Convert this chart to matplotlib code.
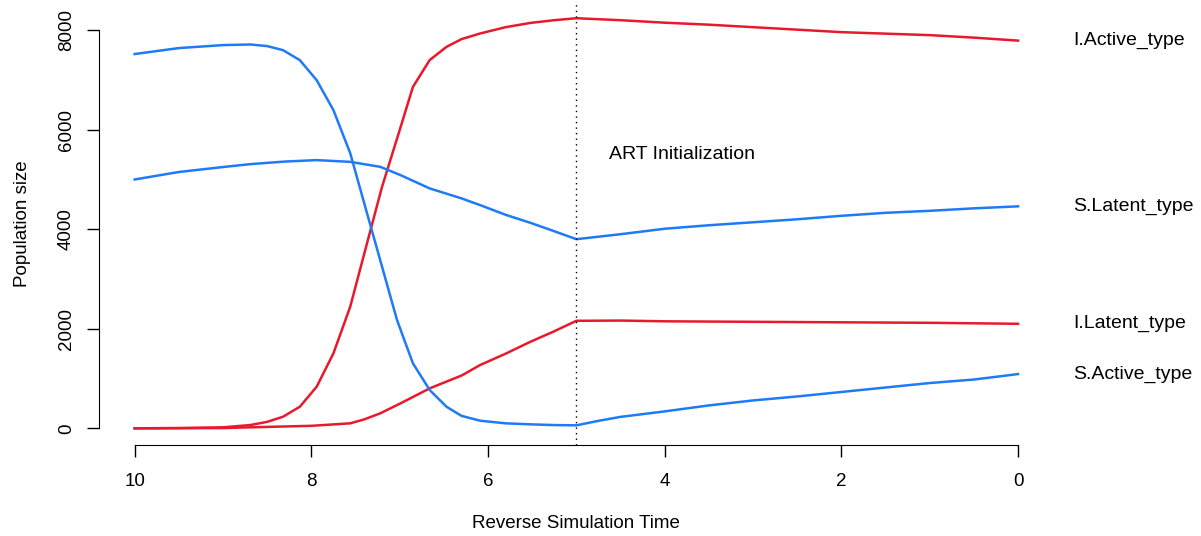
import matplotlib
matplotlib.use("Agg")
import matplotlib.pyplot as plt

plt.rcParams['font.family'] = ['Liberation Sans', 'DejaVu Sans']

# reverse simulation time (x axis runs from 10 down to 0)
t_i_active = [10, 9.5, 9.0, 8.69, 8.5, 8.32, 8.13, 7.94, 7.75, 7.56, 7.37, 7.2, 6.99, 6.85,
              6.66, 6.47, 6.3, 6.09, 5.8, 5.52, 5.25, 5.0, 4.5, 4.0, 3.5, 3.0, 2.5, 2.0,
              1.5, 1.0, 0.5, 0]
i_active = [0, 5, 20, 66, 130, 233, 434, 835, 1506, 2442, 3716, 4850, 6050, 6860,
            7400, 7664, 7820, 7933, 8060, 8146, 8200, 8240, 8200, 8150, 8110, 8060, 8010, 7960,
            7930, 7900, 7850, 7790]

t_s_active = [10, 9.5, 9.0, 8.69, 8.5, 8.32, 8.13, 7.94, 7.75, 7.56, 7.37, 7.2, 7.03, 6.85,
              6.66, 6.47, 6.3, 6.09, 5.8, 5.52, 5.25, 5.0, 4.75, 4.5, 4.0, 3.5, 3.0, 2.5,
              2.0, 1.5, 1.0, 0.5, 0]
s_active = [7520, 7640, 7700, 7712, 7680, 7598, 7397, 6996, 6393, 5529, 4324, 3250, 2175, 1305,
            769, 434, 250, 153, 100, 80, 65, 60, 150, 230, 340, 460, 560, 640,
            730, 820, 910, 980, 1090]

t_s_latent = [10, 9.5, 9.0, 8.69, 8.3, 7.94, 7.56, 7.22, 6.99, 6.66, 6.3, 6.09, 5.8, 5.52,
              5.25, 5.0, 4.5, 4.0, 3.5, 3.0, 2.5, 2.0, 1.5, 1.0, 0.5, 0]
s_latent = [5000, 5150, 5250, 5308, 5360, 5389, 5354, 5254, 5087, 4820, 4620, 4485, 4290, 4129,
            3960, 3800, 3900, 4010, 4080, 4140, 4200, 4270, 4330, 4370, 4420, 4460]

t_i_latent = [10, 9.0, 8.69, 8.0, 7.56, 7.4, 7.22, 6.99, 6.66, 6.3, 6.09, 5.8, 5.52, 5.25,
              5.0, 4.5, 4.0, 3.0, 2.0, 1.0, 0]
i_latent = [0, 5, 20, 50, 100, 180, 301, 502, 803, 1060, 1271, 1500, 1739, 1950,
            2160, 2165, 2150, 2140, 2130, 2120, 2100]

labels = ["I.Active_type", "S.Latent_type", "I.Latent_type", "S.Active_type"]
x_ticks = [10, 8, 6, 4, 2, 0]
y_ticks = [0, 2000, 4000, 6000, 8000]
art_time = 5

red = "#E8192C"
blue = "#1F7BF5"

fig = plt.figure(figsize=(12.01, 5.36), dpi=100)
ax = fig.add_axes([0.0827, 0.1698, 0.7944, 0.825])

ax.plot(t_i_active, i_active, color=red, lw=1.8)
ax.plot(t_s_latent, s_latent, color=blue, lw=1.8)
ax.plot(t_i_latent, i_latent, color=red, lw=1.8)
ax.plot(t_s_active, s_active, color=blue, lw=1.8)

ax.axvline(art_time, color="black", lw=1, linestyle=(0, (1, 3)))
ax.text(3.8, 5500, "ART Initialization", fontsize=14, ha="center", va="center")

ends = [i_active[-1], s_latent[-1], i_latent[-1], s_active[-1]]
for lab, yv in zip(labels, ends):
    ax.text(-0.62, yv, lab, fontsize=14, ha="left", va="center", clip_on=False)

ax.set_xlim(10.4, -0.4)
ax.set_ylim(-335, 8550)

for side in ["top", "right"]:
    ax.spines[side].set_visible(False)
ax.spines["left"].set_bounds(0, 8000)
ax.spines["bottom"].set_bounds(0, 10)

ax.set_xticks(x_ticks)
ax.set_xticklabels([str(v) for v in x_ticks])
ax.set_yticks(y_ticks)
ax.set_yticklabels([str(v) for v in y_ticks], rotation=90, va="center")
ax.tick_params(axis="x", length=8.5, width=1, labelsize=13.5, pad=12)
ax.tick_params(axis="y", length=8.5, width=1, labelsize=13.5, pad=9)

ax.set_xlabel("Reverse Simulation Time", fontsize=13.5)
ax.set_ylabel("Population size", fontsize=13.5)
ax.xaxis.set_label_coords(0.5, -0.158)
ax.yaxis.set_label_coords(-0.0716, 0.5)

fig.savefig("out.png", dpi=100)
